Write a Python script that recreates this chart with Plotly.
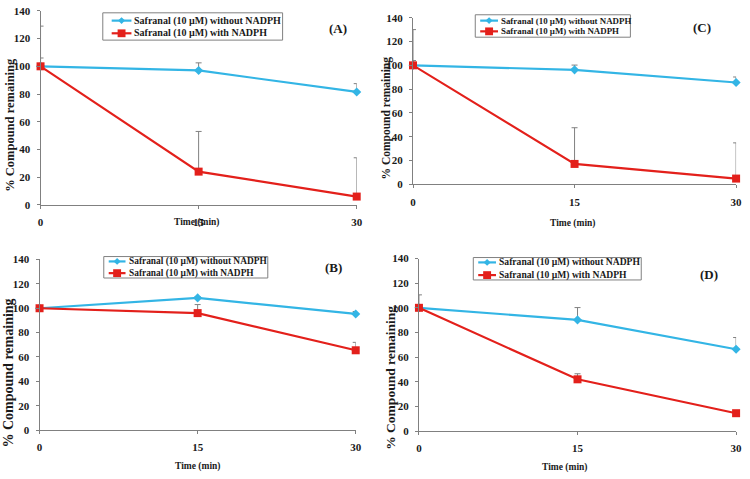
import plotly.graph_objects as go

W, H = 750, 479

time_min = [0, 15, 30]
series_names = ["Safranal (10 µM) without NADPH", "Safranal (10 µM) with NADPH"]
panel_labels = ["(A)", "(B)", "(C)", "(D)"]

# values
A_without = [100, 97, 81.5]
A_without_err = [6, 5.5, 6]
A_with = [100, 24, 6]
A_with_err = [29, 29, 28]

B_without = [100, 108.5, 95.3]
B_without_err = [0.5, 1, 2]
B_with = [100, 96, 65.5]
B_with_err = [1, 7, 6.5]

C_without = [100, 96.2, 85.6]
C_without_err = [4, 4, 4.6]
C_with = [100, 17.2, 4.9]
C_with_err = [30, 30.4, 30]

D_without = [100, 90.2, 66.4]
D_without_err = [10.5, 10, 9.5]
D_with = [100, 42, 14.5]
D_with_err = [1, 4.5, 0.5]

y_ticks = [0, 20, 40, 60, 80, 100, 120, 140]

BLUE = "#33b5e5"
RED = "#e3201b"
TXT = "#1a1a1a"
FONT = "Liberation Serif"

# pixel geometry of each panel
panels = [
    dict(data=(A_without, A_without_err, A_with, A_with_err), px=(38, 358), py=(204, 5),
         legend=dict(box=(101, 7, 182, 28), rows=(15, 28), sample=(110, 130), text_x=131, fs=10.0),
         label=(339, 23), xtitle=(196, 222), ytitle=(7, 122), ytsize=12.5),
    dict(data=(B_without, B_without_err, B_with, B_with_err), px=(37, 357), py=(435, 260),
         legend=dict(box=(102, 257, 166, 22), rows=(262, 274), sample=(107, 124), text_x=125, fs=9.4),
         label=(335, 268), xtitle=(197, 472), ytitle=(6, 376), ytsize=14),
    dict(data=(C_without, C_without_err, C_with, C_with_err), px=(415, 742), py=(183, 12),
         legend=dict(box=(478, 9, 157, 23), rows=(15, 26), sample=(483, 501), text_x=502, fs=8.9),
         label=(707, 22), xtitle=(576, 223), ytitle=(388, 115), ytsize=11.5),
    dict(data=(D_without, D_without_err, D_with, D_with_err), px=(421, 742), py=(436, 259),
         legend=dict(box=(476, 258, 170, 23), rows=(263, 276), sample=(481, 499), text_x=500, fs=9.6),
         label=(715, 275), xtitle=(568, 473), ytitle=(392, 381), ytsize=13.5),
]


def px_x(v):
    return v / W


def px_y(v):
    return 1 - v / H


fig = go.Figure()
annotations = []
shapes = []
layout = dict(
    width=W, height=H, margin=dict(l=0, r=0, t=0, b=0),
    paper_bgcolor="white", plot_bgcolor="white", showlegend=False,
    font=dict(family=FONT, color=TXT),
)

for i, p in enumerate(panels):
    n = "" if i == 0 else str(i + 1)
    xa, ya = "x" + n, "y" + n
    wo, wo_e, wi, wi_e = p["data"]
    fig.add_trace(go.Scatter(
        x=time_min, y=wo, name=series_names[0], xaxis=xa, yaxis=ya,
        mode="lines+markers", line=dict(color=BLUE, width=2.2),
        marker=dict(symbol="diamond", size=7, color=BLUE),
        error_y=dict(type="data", symmetric=False, array=wo_e, arrayminus=[0, 0, 0],
                     color="#808080", thickness=1, width=3),
        cliponaxis=False))
    fig.add_trace(go.Scatter(
        x=time_min, y=wi, name=series_names[1], xaxis=xa, yaxis=ya,
        mode="lines+markers", line=dict(color=RED, width=2.2),
        marker=dict(symbol="square", size=8, color=RED),
        error_y=dict(type="data", symmetric=False, array=wi_e, arrayminus=[0, 0, 0],
                     color="#808080", thickness=1, width=3),
        cliponaxis=False))
    x0, x1 = p["px"]
    yb, yt = p["py"]
    axis_common = dict(showgrid=False, zeroline=False, showline=True, linecolor="#808080",
                       linewidth=1, ticks="outside", ticklen=3, tickcolor="#808080",
                       tickfont=dict(family=FONT, size=11, weight="bold", color=TXT))
    layout["xaxis" + n] = dict(axis_common, domain=[x0 / W, x1 / W], range=[0, 30],
                               tickvals=time_min, anchor=ya, ticklabelstandoff=4)
    layout["yaxis" + n] = dict(axis_common, domain=[1 - yb / H, 1 - yt / H], range=[0, 140],
                               tickvals=y_ticks, anchor=xa, ticklabelstandoff=4)

    # legend box drawn by hand so its compact size matches
    lg = p["legend"]
    bx, by, bw, bh = lg["box"]
    shapes.append(dict(type="rect", xref="paper", yref="paper",
                       x0=px_x(bx), x1=px_x(bx + bw), y0=px_y(by + bh), y1=px_y(by),
                       line=dict(color="#808080", width=1), fillcolor="white", layer="above"))
    s0, s1 = lg["sample"]
    sc = (s0 + s1) / 2
    for k, (col, ry) in enumerate(zip([BLUE, RED], lg["rows"])):
        shapes.append(dict(type="line", xref="paper", yref="paper",
                           x0=px_x(s0), x1=px_x(s1), y0=px_y(ry), y1=px_y(ry),
                           line=dict(color=col, width=2.2), layer="above"))
        if k == 0:
            d = 3.5
            path = (f"M {px_x(sc - d)} {px_y(ry)} L {px_x(sc)} {px_y(ry - d)} "
                    f"L {px_x(sc + d)} {px_y(ry)} L {px_x(sc)} {px_y(ry + d)} Z")
            shapes.append(dict(type="path", xref="paper", yref="paper", path=path,
                               fillcolor=col, line=dict(color=col, width=0), layer="above"))
        else:
            d = 4
            shapes.append(dict(type="rect", xref="paper", yref="paper",
                               x0=px_x(sc - d), x1=px_x(sc + d), y0=px_y(ry + d), y1=px_y(ry - d),
                               fillcolor=col, line=dict(color=col, width=0), layer="above"))
        annotations.append(dict(text=series_names[k], x=px_x(lg["text_x"]), y=px_y(ry),
                                xref="paper", yref="paper", xanchor="left", yanchor="middle",
                                showarrow=False,
                                font=dict(family=FONT, size=lg["fs"], weight="bold", color=TXT)))

    ax, ay = p["label"]
    annotations.append(dict(text=panel_labels[i], x=px_x(ax), y=px_y(ay), xref="paper", yref="paper",
                            xanchor="center", yanchor="middle", showarrow=False,
                            font=dict(family=FONT, size=13, weight="bold", color=TXT)))
    tx, ty = p["xtitle"]
    annotations.append(dict(text="Time (min)", x=px_x(tx), y=px_y(ty), xref="paper", yref="paper",
                            xanchor="center", yanchor="middle", showarrow=False,
                            font=dict(family=FONT, size=9.5, weight="bold", color=TXT)))
    yx, yy = p["ytitle"]
    annotations.append(dict(text="% Compound remaining", x=px_x(yx), y=px_y(yy), xref="paper", yref="paper",
                            xanchor="center", yanchor="middle", showarrow=False, textangle=-90,
                            font=dict(family=FONT, size=p["ytsize"], weight="bold", color=TXT)))

layout["annotations"] = annotations
layout["shapes"] = shapes
fig.update_layout(**layout)
fig.write_html("out.html", config={"displayModeBar": False},
               post_script="document.body.style.margin='0';document.body.style.overflow='hidden';")
